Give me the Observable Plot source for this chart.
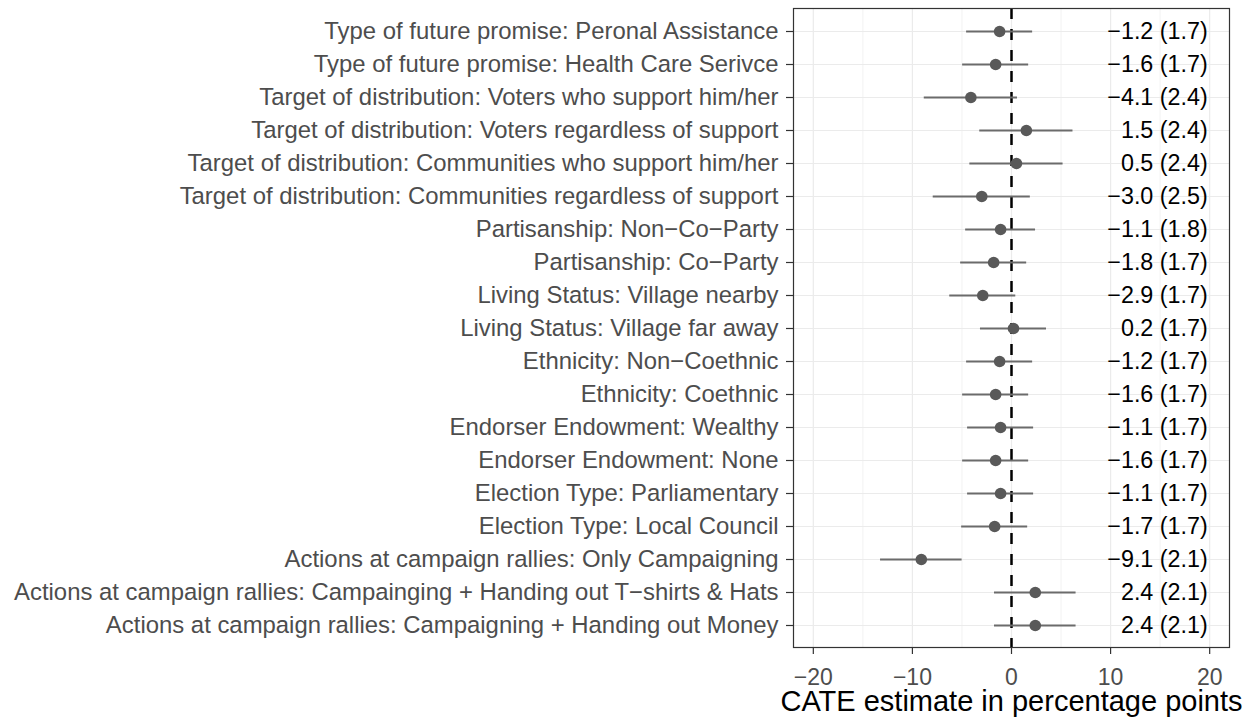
<!DOCTYPE html>
<html>
<head>
<meta charset="utf-8">
<script src="https://cdn.jsdelivr.net/npm/d3@7"></script>
<script src="https://cdn.jsdelivr.net/npm/@observablehq/plot@0.6"></script>
<style>
  html, body { margin: 0; padding: 0; background: #fff; }
  #chart svg { display: block; }
</style>
</head>
<body>
<div id="chart"></div>
<script>
// Categories, top to bottom
const categories = [
  "Type of future promise: Peronal Assistance",
  "Type of future promise: Health Care Serivce",
  "Target of distribution: Voters who support him/her",
  "Target of distribution: Voters regardless of support",
  "Target of distribution: Communities who support him/her",
  "Target of distribution: Communities regardless of support",
  "Partisanship: Non\u2212Co\u2212Party",
  "Partisanship: Co\u2212Party",
  "Living Status: Village nearby",
  "Living Status: Village far away",
  "Ethnicity: Non\u2212Coethnic",
  "Ethnicity: Coethnic",
  "Endorser Endowment: Wealthy",
  "Endorser Endowment: None",
  "Election Type: Parliamentary",
  "Election Type: Local Council",
  "Actions at campaign rallies: Only Campaigning",
  "Actions at campaign rallies: Campainging + Handing out T\u2212shirts & Hats",
  "Actions at campaign rallies: Campaigning + Handing out Money"
];
const estimates = [-1.2, -1.6, -4.1, 1.5, 0.5, -3.0, -1.1, -1.8, -2.9, 0.2, -1.2, -1.6, -1.1, -1.6, -1.1, -1.7, -9.1, 2.4, 2.4];
const stdErrors = [1.7, 1.7, 2.4, 2.4, 2.4, 2.5, 1.8, 1.7, 1.7, 1.7, 1.7, 1.7, 1.7, 1.7, 1.7, 1.7, 2.1, 2.1, 2.1];
const xTicks = [-20, -10, 0, 10, 20];
const xMinorTicks = [-15, -5, 5, 15];
const xLabel = "CATE estimate in percentage points";

const fmt = v => v.toFixed(1).replace("-", "\u2212");
const data = categories.map((c, i) => ({
  cat: c,
  est: estimates[i],
  se: stdErrors[i],
  lo: estimates[i] - 1.96 * stdErrors[i],
  hi: estimates[i] + 1.96 * stdErrors[i],
  label: `${fmt(estimates[i])} (${stdErrors[i].toFixed(1)})`
}));

const chart = Plot.plot({
  width: 1255,
  height: 719,
  marginLeft: 793,
  marginRight: 26,
  marginTop: 8,
  marginBottom: 72,
  style: { fontFamily: "Liberation Sans, Arial, sans-serif", background: "#fff" },
  x: { domain: [-22, 22] },
  y: { type: "point", domain: categories, padding: 0.6 },
  marks: [
    Plot.ruleX(xMinorTicks, { stroke: "#ebebeb", strokeWidth: 0.6 }),
    Plot.ruleX(xTicks, { stroke: "#ebebeb", strokeWidth: 1.2 }),
    Plot.ruleY(categories, { y: d => d, stroke: "#ebebeb", strokeWidth: 1.2 }),
    Plot.ruleX([0], { stroke: "#000", strokeWidth: 2.5, strokeDasharray: "11,10" }),
    Plot.ruleY(data, { y: "cat", x1: "lo", x2: "hi", stroke: "#6b6b6b", strokeWidth: 2 }),
    Plot.dot(data, { y: "cat", x: "est", r: 5.8, fill: "#595959", stroke: "none" }),
    Plot.text(data, { y: "cat", x: 19.8, text: "label", textAnchor: "end", fill: "#000", fontSize: 23.3 }),
    Plot.frame({ stroke: "#333", strokeWidth: 1.2 }),
    Plot.axisX(xTicks, {
      tickSize: 7, tickPadding: 14, stroke: "#333", strokeWidth: 1.2, fill: "#4d4d4d", fontSize: 23,
      tickFormat: d => String(d).replace("-", "\u2212"), label: null
    }),
    Plot.axisY({
      tickSize: 7, tickPadding: 8, stroke: "#333", strokeWidth: 1.2, fill: "#4d4d4d", fontSize: 23.9, label: null
    }),
    Plot.text([xLabel], { frameAnchor: "bottom", lineAnchor: "bottom", dy: 63, fontSize: 29, fill: "#000", text: d => d })
  ]
});
document.getElementById("chart").appendChild(chart);
</script>
</body>
</html>
